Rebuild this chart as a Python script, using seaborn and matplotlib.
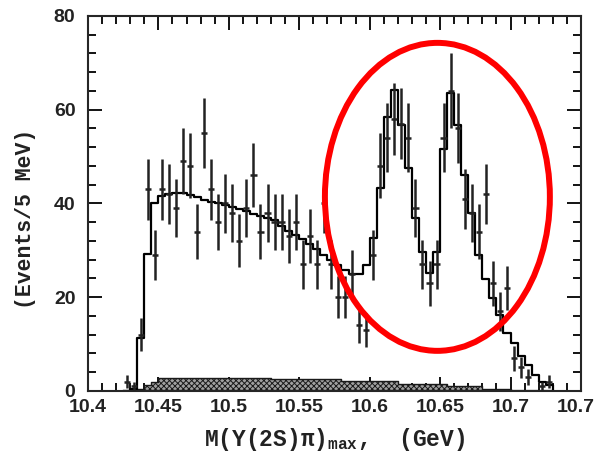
import numpy as np
import pandas as pd
import matplotlib
matplotlib.use("Agg")
import matplotlib.pyplot as plt
from matplotlib.patches import Ellipse
from matplotlib.ticker import MultipleLocator
import seaborn as sns

# bins de 5 MeV, centros de 10.4275 a 10.7275 GeV
mass = np.round(10.4275 + 0.005 * np.arange(61), 4)
edges = [round(10.425 + 0.005 * i, 4) for i in range(62)]

# eventos observados por bin (0 = sem ponto)
counts = [2, 1, 12, 43, 29, 43, 42, 39, 49, 48,
          34, 55, 43, 36, 40, 38, 32, 39, 46, 34,
          38, 36, 36, 33, 36, 27, 33, 27, 40, 27,
          20, 20, 25, 14, 13, 29, 48, 54, 58, 57,
          54, 39, 27, 23, 27, 54, 64, 56, 41, 38,
          34, 42, 23, 17, 22, 7, 5, 3, 0, 1,
          2]

# resultado do ajuste
fit = [0, 0.5, 11.2, 29.2, 40, 41.6, 42, 42.3, 42.3, 41.8,
       41.3, 40.8, 40.4, 40, 39.6, 39.2, 38.8, 38.3, 37.8, 37.3,
       36.9, 36.4, 35.2, 34.2, 33.3, 32.4, 31.4, 30.3, 29.1, 27.9,
       26.8, 25.7, 25, 25, 26.9, 32.7, 43.2, 58.5, 64.1, 56.7,
       47.5, 36.8, 29.7, 25.2, 29.7, 51.6, 63.6, 56.7, 46.1, 38,
       29, 23.8, 19.8, 16.2, 12.3, 10.2, 7.5, 5.5, 3.4, 2,
       1.2]

# fundo (histograma hachurado)
background = [0, 0, 0.4, 1.3, 1.9] + [2.8] * 16 + [2.5] * 10 + [2.1] * 8 \
    + [1.4] * 7 + [1.0] * 5 + [0.5] * 4 + [0] * 6

df = pd.DataFrame({'mass': mass, 'counts': counts, 'fit': fit,
                   'background': background})

sns.set_style("ticks")
plt.rcParams['font.family'] = ['Liberation Sans', 'DejaVu Sans']
plt.rcParams['mathtext.fontset'] = 'custom'
plt.rcParams['mathtext.rm'] = 'Liberation Mono:bold'
plt.rcParams['hatch.linewidth'] = 0.7

fig = plt.figure(figsize=(5.94, 4.61), dpi=100)
ax = fig.add_axes([0.148, 0.152, 0.830, 0.8135])

# fundo
sns.histplot(data=df, x='mass', weights='background', bins=edges, element='step',
             fill=True, color='#a0a0a0', facecolor='#a0a0a0', edgecolor='#1a1a1a',
             hatch='xxxxxx', linewidth=1.0, alpha=1, ax=ax)

# ajuste
sns.histplot(data=df, x='mass', weights='fit', bins=edges, element='step',
             fill=True, color='black', facecolor='none', edgecolor='black',
             linewidth=1.6, ax=ax)

# dados com erros de Poisson
pts = df[df['counts'] > 0]
ax.errorbar(pts['mass'], pts['counts'], yerr=np.sqrt(pts['counts']), xerr=0.0022,
            fmt='none', ecolor='#222222', elinewidth=1.8, capsize=0, zorder=3)

# elipse vermelha
ax.add_patch(Ellipse((10.6481, 41.4), 0.1597, 65.7, fill=False,
                     edgecolor='#ff0000', linewidth=4.3, zorder=5))

ax.set_xlim(10.4, 10.75)
ax.set_ylim(0, 80)
ax.set_xticks([10.4, 10.45, 10.5, 10.55, 10.6, 10.65, 10.7, 10.75])
ax.set_xticklabels(['10.4', '10.45', '10.5', '10.55', '10.6', '10.65', '10.7', '10.75'])
ax.set_yticks([0, 20, 40, 60, 80])
ax.xaxis.set_minor_locator(MultipleLocator(0.01))
ax.yaxis.set_minor_locator(MultipleLocator(4))

ax.tick_params(which='both', direction='in', top=True, right=True,
               width=1.3, color='black')
ax.tick_params(which='major', length=10)
ax.tick_params(which='minor', length=6)
ax.tick_params(axis='x', pad=6)
ax.tick_params(axis='y', pad=9)
for lab in ax.get_xticklabels() + ax.get_yticklabels():
    lab.set_fontweight('bold')
    lab.set_fontsize(14)
    lab.set_color('#222222')

for sp in ax.spines.values():
    sp.set_linewidth(1.5)

ax.set_xlabel('M(Υ(2S)π)$_{\\mathrm{max}}$,  (GeV)', family='Liberation Mono',
              fontweight='bold', fontsize=16.5, color='#222222')
ax.set_ylabel('(Events/5 MeV)', family='Liberation Mono', fontweight='bold',
              fontsize=15.5, color='#222222')
ax.xaxis.set_label_coords(0.5, -0.093)
ax.yaxis.set_label_coords(-0.105, 0.46)

fig.savefig('out.png', dpi=100)
